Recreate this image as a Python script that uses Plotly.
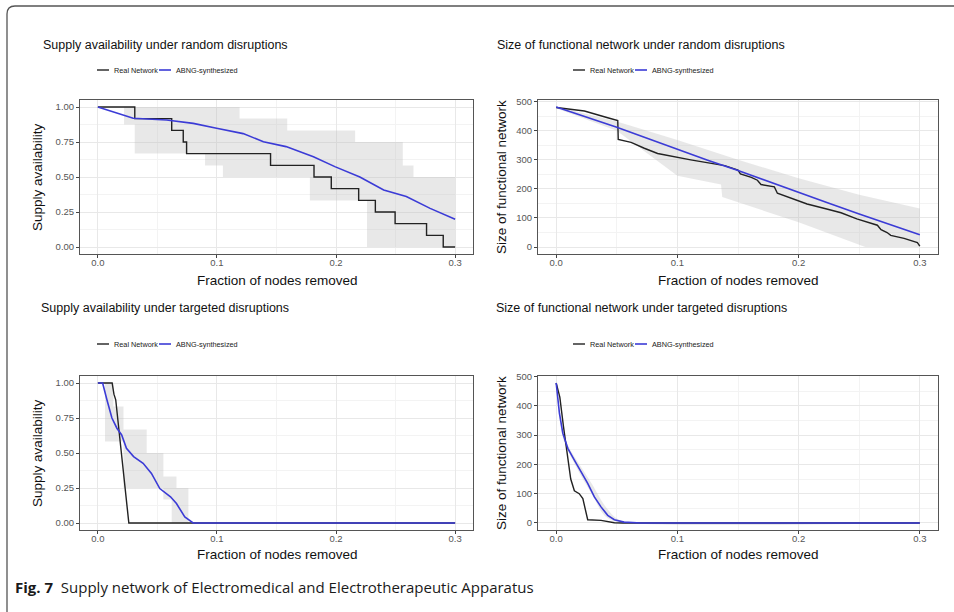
import plotly.graph_objects as go

W, H = 954, 612

# ---------------- data ----------------
# Panel 1: supply availability under random disruptions
rand_sa_real_x = [0, 0.031, 0.062, 0.0717, 0.0745, 0.145, 0.1815, 0.196, 0.219, 0.233, 0.2496, 0.276, 0.290, 0.300]
rand_sa_real_y = [1.0, 0.917, 0.833, 0.75, 0.667, 0.583, 0.5, 0.417, 0.333, 0.25, 0.167, 0.083, 0.0, 0.0]
rand_sa_abng_x = [0, 0.015, 0.0297, 0.0577, 0.0801, 0.0997, 0.122, 0.139, 0.158, 0.181, 0.199, 0.220, 0.240, 0.259, 0.279, 0.300]
rand_sa_abng_y = [1.0, 0.96, 0.92, 0.907, 0.883, 0.848, 0.81, 0.752, 0.717, 0.645, 0.574, 0.50, 0.407, 0.36, 0.276, 0.198]
rand_sa_lo_x = [0, 0.022, 0.031, 0.09, 0.105, 0.178, 0.226, 0.300]
rand_sa_lo_y = [1.0, 0.875, 0.667, 0.583, 0.5, 0.333, 0.0, 0.0]
rand_sa_hi_x = [0, 0.119, 0.159, 0.216, 0.256, 0.265, 0.300]
rand_sa_hi_y = [1.0, 0.917, 0.833, 0.75, 0.583, 0.5, 0.5]

# Panel 2: size of functional network under random disruptions
rand_sz_real_x = [0, 0.0233, 0.0425, 0.0508, 0.0512, 0.0618, 0.0727, 0.0837, 0.111, 0.139, 0.150, 0.152,
                  0.161, 0.166, 0.169, 0.180, 0.1825, 0.207, 0.224, 0.235, 0.248, 0.265, 0.268, 0.273,
                  0.276, 0.287, 0.298, 0.300]
rand_sz_real_y = [480, 468, 445, 435, 370, 360, 340, 322, 300, 280, 265, 252,
                  240, 230, 215, 207, 185, 148, 130, 118, 97, 75, 60, 50,
                  40, 30, 15, 3]
rand_sz_abng_x = [0, 0.025, 0.05, 0.075, 0.1, 0.125, 0.15, 0.175, 0.2, 0.225, 0.25, 0.275, 0.3]
rand_sz_abng_y = [482, 447, 412, 374, 336, 299, 263, 225, 188, 151, 114, 78, 42]
rand_sz_lo_x = [0, 0.05, 0.1, 0.136, 0.137, 0.2, 0.255, 0.3]
rand_sz_lo_y = [478, 400, 245, 215, 172, 85, 0, 0]
rand_sz_hi_x = [0, 0.05, 0.1, 0.15, 0.2, 0.25, 0.3]
rand_sz_hi_y = [484, 432, 368, 300, 237, 180, 133]

# Panel 3: supply availability under targeted disruptions
targ_sa_real_x = [0, 0.012, 0.0135, 0.015, 0.026, 0.300]
targ_sa_real_y = [1.0, 1.0, 0.92, 0.88, 0.0, 0.0]
targ_sa_abng_x = [0, 0.004, 0.0076, 0.0118, 0.016, 0.020, 0.024, 0.030, 0.038, 0.045, 0.052, 0.061,
                  0.066, 0.073, 0.080, 0.300]
targ_sa_abng_y = [1.0, 1.0, 0.88, 0.75, 0.677, 0.629, 0.533, 0.474, 0.426, 0.354, 0.246, 0.187,
                  0.139, 0.043, 0.0, 0.0]
targ_sa_lo_x = [0, 0.006, 0.0215, 0.055, 0.062, 0.300]
targ_sa_lo_y = [1.0, 0.583, 0.25, 0.167, 0.0, 0.0]
targ_sa_hi_x = [0, 0.013, 0.0215, 0.041, 0.055, 0.066, 0.076, 0.300]
targ_sa_hi_y = [1.0, 0.833, 0.667, 0.5, 0.333, 0.25, 0.0, 0.0]

# Panel 4: size of functional network under targeted disruptions
targ_sz_real_x = [0, 0.003, 0.006, 0.009, 0.012, 0.015, 0.019, 0.022, 0.025, 0.026, 0.037, 0.048, 0.055, 0.300]
targ_sz_real_y = [478, 430, 330, 230, 150, 110, 100, 83, 32, 11, 9, 1, 0, 0]
targ_sz_abng_x = [0, 0.0027, 0.0055, 0.0096, 0.015, 0.0205, 0.026, 0.0315, 0.037, 0.0425, 0.048, 0.056, 0.07, 0.300]
targ_sz_abng_y = [478, 374, 306, 255, 215, 175, 135, 89, 55, 26, 11, 3, 0, 0]
targ_sz_lo_x = [0, 0.005, 0.01, 0.02, 0.03, 0.04, 0.05, 0.06, 0.300]
targ_sz_lo_y = [477, 300, 245, 165, 95, 25, 4, 0, 0]
targ_sz_hi_x = [0, 0.005, 0.01, 0.02, 0.03, 0.04, 0.05, 0.06, 0.300]
targ_sz_hi_y = [480, 315, 262, 195, 130, 60, 15, 2, 0]

series_names = ["Real Network", "ABNG-synthesized"]
titles = ["Supply availability under random disruptions",
          "Size of functional network under random disruptions",
          "Supply availability under targeted disruptions",
          "Size of functional network under targeted disruptions"]
x_title = "Fraction of nodes removed"
y_titles = ["Supply availability", "Size of functional network",
            "Supply availability", "Size of functional network"]
x_ticks = [0.0, 0.1, 0.2, 0.3]
x_ticklabels = ["0.0", "0.1", "0.2", "0.3"]
sa_ticks = [0.0, 0.25, 0.5, 0.75, 1.0]
sa_ticklabels = ["0.00", "0.25", "0.50", "0.75", "1.00"]
sz_ticks = [0, 100, 200, 300, 400, 500]
sz_ticklabels = ["0", "100", "200", "300", "400", "500"]
caption_bold = "Fig. 7"
caption_text = "Supply network of Electromedical and Electrotherapeutic Apparatus"

# ---------------- styling ----------------
BLACK = "#222222"
BLUE = "#3b3bd6"
RIBBON = "rgba(190,190,190,0.35)"
FONT = "Liberation Sans, Arial, sans-serif"

def px(x):
    return x / W

def py(y):
    return 1 - y / H

fig = go.Figure()

panels = [
    dict(real=(rand_sa_real_x, rand_sa_real_y, "hv"), abng=(rand_sa_abng_x, rand_sa_abng_y),
         lo=(rand_sa_lo_x, rand_sa_lo_y), hi=(rand_sa_hi_x, rand_sa_hi_y), rib_shape="hv"),
    dict(real=(rand_sz_real_x, rand_sz_real_y, "linear"), abng=(rand_sz_abng_x, rand_sz_abng_y),
         lo=(rand_sz_lo_x, rand_sz_lo_y), hi=(rand_sz_hi_x, rand_sz_hi_y), rib_shape="linear"),
    dict(real=(targ_sa_real_x, targ_sa_real_y, "linear"), abng=(targ_sa_abng_x, targ_sa_abng_y),
         lo=(targ_sa_lo_x, targ_sa_lo_y), hi=(targ_sa_hi_x, targ_sa_hi_y), rib_shape="hv"),
    dict(real=(targ_sz_real_x, targ_sz_real_y, "linear"), abng=(targ_sz_abng_x, targ_sz_abng_y),
         lo=(targ_sz_lo_x, targ_sz_lo_y), hi=(targ_sz_hi_x, targ_sz_hi_y), rib_shape="spline"),
]

for i, p in enumerate(panels):
    ax = "" if i == 0 else str(i + 1)
    xa, ya = "x" + ax, "y" + ax
    rs = p["rib_shape"]
    fig.add_trace(go.Scatter(x=p["lo"][0], y=p["lo"][1], mode="lines", line=dict(width=0, shape=rs),
                             showlegend=False, hoverinfo="skip", xaxis=xa, yaxis=ya))
    fig.add_trace(go.Scatter(x=p["hi"][0], y=p["hi"][1], mode="lines", line=dict(width=0, shape=rs),
                             fill="tonexty", fillcolor=RIBBON,
                             showlegend=False, hoverinfo="skip", xaxis=xa, yaxis=ya))
    fig.add_trace(go.Scatter(x=p["real"][0], y=p["real"][1], mode="lines", name=series_names[0],
                             line=dict(color=BLACK, width=1.4, shape=p["real"][2]),
                             showlegend=False, xaxis=xa, yaxis=ya))
    fig.add_trace(go.Scatter(x=p["abng"][0], y=p["abng"][1], mode="lines", name=series_names[1],
                             line=dict(color=BLUE, width=1.6),
                             showlegend=False, xaxis=xa, yaxis=ya))

# panel geometry (pixels)
geo = [
    (80, 473, 100, 254),
    (538, 938, 100, 254),
    (80, 473, 376, 530),
    (538, 938, 376, 530),
]
yranges = [[-0.05, 1.05], [-24, 506], [-0.05, 1.05], [-24, 502]]

axis_common = dict(
    showline=True, linecolor="#555555", linewidth=1, mirror=True,
    ticks="outside", ticklen=3, tickcolor="#444444", tickwidth=1,
    tickfont=dict(family=FONT, size=9.5, color="#555555"),
    showgrid=True, gridcolor="#e8e8e8", gridwidth=1, zeroline=False,
    automargin=False,
)

layout = dict(width=W, height=H, margin=dict(l=0, r=0, t=0, b=0, autoexpand=False),
              paper_bgcolor="white", plot_bgcolor="white", showlegend=False)

for i, (x0, x1, y0, y1) in enumerate(geo):
    ax = "" if i == 0 else str(i + 1)
    is_sa = i in (0, 2)
    layout["xaxis" + ax] = dict(
        axis_common, domain=[px(x0), px(x1)], range=[-0.015, 0.315], anchor="y" + ax,
        tickvals=x_ticks, ticktext=x_ticklabels, ticklabelstandoff=-3,
        minor=dict(tickvals=[0.05, 0.15, 0.25], showgrid=True, gridcolor="#f3f3f3", gridwidth=0.6, ticks=""),
    )
    layout["yaxis" + ax] = dict(
        axis_common, domain=[py(y1), py(y0)], range=yranges[i], anchor="x" + ax,
        tickvals=sa_ticks if is_sa else sz_ticks,
        ticktext=sa_ticklabels if is_sa else sz_ticklabels,
        minor=dict(tickvals=([0.125, 0.375, 0.625, 0.875] if is_sa else [50, 150, 250, 350, 450]),
                   showgrid=True, gridcolor="#f3f3f3", gridwidth=0.6, ticks=""),
    )

fig.update_layout(**layout)

annotations = []
shapes = []

# titles, axis titles and manual legends
title_pos = [(165, 45), (641, 45), (165, 308), (641, 308)]
legend_pos = [(97, 70), (573, 70), (97, 344), (573, 344)]
xtitle_pos = [(277, 281), (738, 281), (277, 554), (738, 554)]
ytitle_pos = [(37, 177), (501, 177), (37, 453), (501, 453)]
for i in range(4):
    tx, ty = title_pos[i]
    annotations.append(dict(text=titles[i], x=px(tx), y=py(ty), xref="paper", yref="paper",
                            showarrow=False, xanchor="center", yanchor="middle",
                            font=dict(family=FONT, size=12.5, color="#111111")))
    ax_, ay_ = xtitle_pos[i]
    annotations.append(dict(text=x_title, x=px(ax_), y=py(ay_), xref="paper", yref="paper",
                            showarrow=False, xanchor="center", yanchor="middle",
                            font=dict(family=FONT, size=13.5, color="#111111")))
    bx, by = ytitle_pos[i]
    annotations.append(dict(text=y_titles[i], x=px(bx), y=py(by), xref="paper", yref="paper",
                            showarrow=False, xanchor="center", yanchor="middle", textangle=-90,
                            font=dict(family=FONT, size=13.5, color="#111111")))
    lx, ly = legend_pos[i]
    shapes.append(dict(type="line", xref="paper", yref="paper", x0=px(lx), x1=px(lx + 12),
                       y0=py(ly), y1=py(ly), line=dict(color=BLACK, width=1.4)))
    annotations.append(dict(text=series_names[0], x=px(lx + 15), y=py(ly), xref="paper", yref="paper",
                            showarrow=False, xanchor="left", yanchor="middle",
                            font=dict(family=FONT, size=7.3, color="#222222")))
    shapes.append(dict(type="line", xref="paper", yref="paper", x0=px(lx + 62), x1=px(lx + 74),
                       y0=py(ly), y1=py(ly), line=dict(color=BLUE, width=1.6)))
    annotations.append(dict(text=series_names[1], x=px(lx + 77), y=py(ly), xref="paper", yref="paper",
                            showarrow=False, xanchor="left", yanchor="middle",
                            font=dict(family=FONT, size=7.3, color="#222222")))

# caption
annotations.append(dict(text="<b>" + caption_bold + "</b>  " + caption_text,
                        x=px(13), y=py(587), xref="paper", yref="paper",
                        showarrow=False, xanchor="left", yanchor="middle",
                        font=dict(family="Open Sans, Noto Sans, sans-serif", size=15, color="#1a1a1a")))

# outer rounded frame
shapes.append(dict(type="path", xref="paper", yref="paper",
                   path=f"M {px(7)},{py(640)} L {px(7)},{py(14)} Q {px(7)},{py(6)} {px(15)},{py(6)} L {px(980)},{py(6)}",
                   line=dict(color="#555555", width=1.3)))

fig.update_layout(annotations=annotations, shapes=shapes)

fig.write_html("out.html", config={"displayModeBar": False},
               post_script="document.body.style.margin='0';document.body.style.overflow='hidden';")
